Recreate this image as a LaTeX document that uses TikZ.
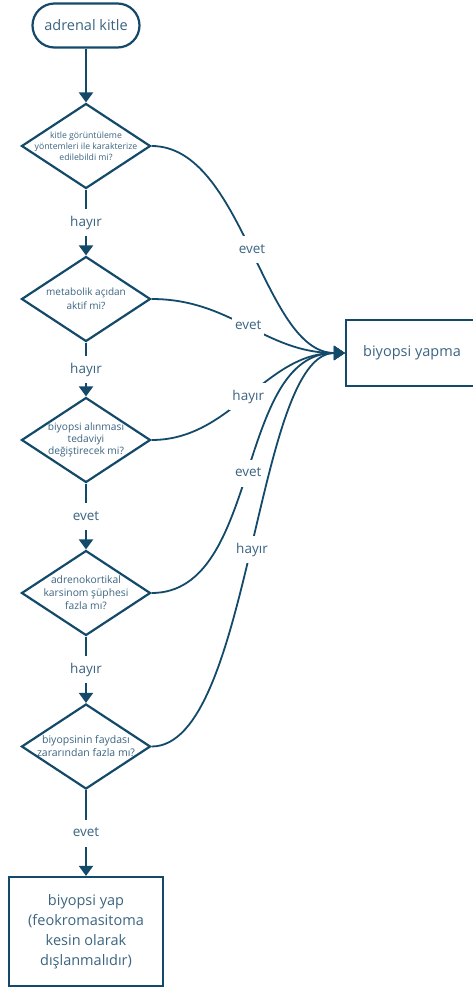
\documentclass[tikz,border=0pt]{standalone}
\usepackage{fontspec}
\setmainfont{Open Sans}
\usetikzlibrary{shapes.geometric,arrows.meta}
\definecolor{ln}{HTML}{134A6A}
\definecolor{tx}{HTML}{3A6480}
\tikzset{
  base/.style={draw=ln, line width=2.2pt, text=tx, align=center},
  startbox/.style={base, rounded corners=22pt, minimum width=107pt, minimum height=44pt, inner sep=0pt, font=\fontsize{14.5}{18}\selectfont},
  dia/.style={draw=ln, line width=2.2pt, diamond, minimum width=129pt, minimum height=85pt, inner sep=0pt},
  dtext/.style={text=tx, align=center, inner sep=0pt},
  endbox/.style={base, line width=2.2pt, font=\fontsize{14.5}{20}\selectfont, inner sep=0pt},
  lab/.style={fill=white, text=tx, font=\fontsize{13.5}{16}\selectfont, inner xsep=3pt, inner ysep=7pt, text height=10pt, text depth=3pt},
  conn/.style={draw=ln, line width=2.2pt, -{Triangle[length=10pt,width=14pt]}},
  curv/.style={draw=ln, line width=1.8pt, -{Triangle[length=11pt,width=14pt]}},
}
\begin{document}
\begin{tikzpicture}[x=1pt,y=-1pt]
\useasboundingbox (0,0) rectangle (472,988);
\node[startbox] (start) at (86,25.5) {adrenal kitle};
\node[dia] (d1) at (86,146) {};
\node[dtext, font=\fontsize{8.7}{11}\selectfont] (d1t) at (d1.center) {kitle görüntüleme\\yöntemleri ile karakterize\\edilebildi mi?};
\node[dia] (d2) at (86,299) {};
\node[dtext, font=\fontsize{10}{14}\selectfont] (d2t) at (d2.center) {metabolik açıdan\\aktif mi?};
\node[dia] (d3) at (86,440) {};
\node[dtext, font=\fontsize{10.2}{11.7}\selectfont] (d3t) at (d3.center) {biyopsi alınması\\tedaviyi\\değiştirecek mi?};
\node[dia] (d4) at (86,593) {};
\node[dtext, font=\fontsize{10.3}{13}\selectfont] (d4t) at (d4.center) {adrenokortikal\\karsinom şüphesi\\fazla mı?};
\node[dia] (d5) at (86,746.5) {};
\node[dtext, font=\fontsize{10.5}{13}\selectfont] (d5t) at (d5.center) {biyopsinin faydası\\zararından fazla mı?};
\node[endbox, minimum width=132pt, minimum height=66pt] (yes) at (412,353) {biyopsi yapma};
\node[endbox, minimum width=154pt, minimum height=109pt] (fin) at (86,931.5) {biyopsi yap\\(feokromasitoma\\kesin olarak\\dışlanmalıdır)};

\draw[conn] (start.south) -- (d1.north);
\draw[conn] (d1.south) -- node[lab]{hayır} (d2.north);
\draw[conn] (d2.south) -- node[lab]{hayır} (d3.north);
\draw[conn] (d3.south) -- node[lab]{evet} (d4.north);
\draw[conn] (d4.south) -- node[lab]{hayır} (d5.north);
\draw[conn] (d5.south) -- node[lab]{evet} (fin.north);

\draw[curv] (d1.east) .. controls +(92,0) and +(-82,0) .. (yes.west) node[lab, pos=0.5]{evet};
\draw[curv] (d2.east) .. controls +(80,0) and +(-80,0) .. (yes.west) node[lab, pos=0.5]{evet};
\draw[curv] (d3.east) .. controls +(80,0) and +(-80,0) .. (yes.west) node[lab, pos=0.5]{hayır};
\draw[curv] (d4.east) .. controls +(110,0) and +(-110,0) .. (yes.west) node[lab, pos=0.5]{evet};
\draw[curv] (d5.east) .. controls +(100,0) and +(-90,0) .. (yes.west) node[lab, pos=0.5]{hayır};
\end{tikzpicture}
\end{document}
